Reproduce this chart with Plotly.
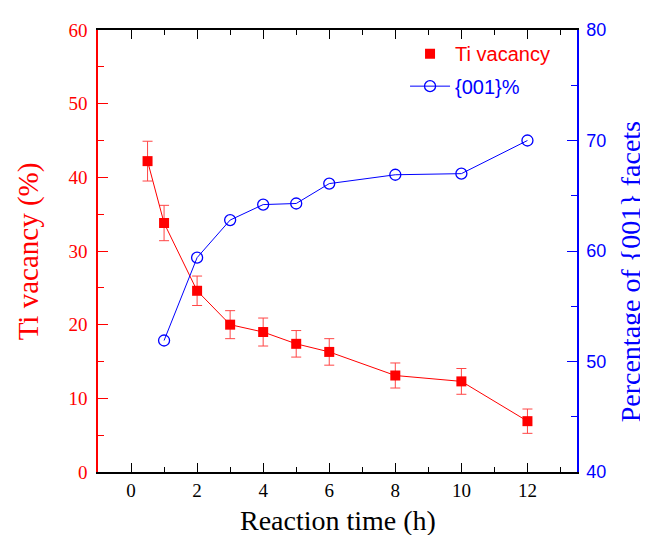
import plotly.graph_objects as go

# Data
time_vac = [0.5, 1, 2, 3, 4, 5, 6, 8, 10, 12]
ti_vacancy = [42.2, 33.8, 24.6, 20.0, 19.0, 17.4, 16.3, 13.1, 12.3, 6.9]
ti_vacancy_err = [2.7, 2.4, 2.0, 1.9, 1.9, 1.8, 1.8, 1.7, 1.75, 1.65]

time_fac = [1, 2, 3, 4, 5, 6, 8, 10, 12]
facet_pct = [51.9, 59.4, 62.8, 64.2, 64.3, 66.1, 66.9, 67.0, 70.0]

x_ticks = [0, 2, 4, 6, 8, 10, 12]

RED = "#ff0000"
BLUE = "#0000ff"
SERIF = "Liberation Serif, Times New Roman, serif"
SANS = "Liberation Sans, Arial, sans-serif"

fig = go.Figure()

fig.add_trace(go.Scatter(
    x=time_vac, y=ti_vacancy, mode="lines+markers",
    name="Ti vacancy",
    line=dict(color=RED, width=1),
    marker=dict(symbol="square", size=10, color=RED),
    error_y=dict(type="data", array=ti_vacancy_err, color="rgb(255,70,70)", thickness=1, width=5),
    legendgroup="a", showlegend=False,
))
# legend entry for Ti vacancy (marker only; invisible line keeps symbol aligned)
fig.add_trace(go.Scatter(
    x=[None], y=[None], mode="lines+markers",
    name="<span style='color:#ff0000'>Ti vacancy</span>",
    line=dict(color="rgba(0,0,0,0)", width=1),
    marker=dict(symbol="square", size=10, color=RED),
    legendgroup="a",
))
fig.add_trace(go.Scatter(
    x=time_fac, y=facet_pct, mode="lines+markers", yaxis="y2",
    name="<span style='color:#0000ff'>{001}%</span>",
    line=dict(color=BLUE, width=1),
    marker=dict(symbol="circle-open", size=11, color=BLUE, line=dict(width=1.3)),
    legendgroup="b",
))

fig.update_layout(
    width=640, height=527,
    margin=dict(l=89.7, r=71, t=14.5, b=62.5),
    paper_bgcolor="white", plot_bgcolor="white",
    xaxis=dict(
        range=[-1, 13.5], tickvals=x_ticks, ticktext=[str(v) for v in x_ticks],
        ticks="inside", ticklen=9, tickwidth=1.3, tickcolor="black",
        showline=True, linecolor="black", linewidth=1.5, mirror="ticks",
        showgrid=False, zeroline=False,
        tickfont=dict(family=SERIF, size=19, color="black"),
        minor=dict(ticks="inside", ticklen=5, dtick=1, tick0=0, tickcolor="black", tickwidth=1.3),
    ),
    yaxis=dict(
        range=[0, 60], dtick=10, tick0=0,
        ticks="inside", ticklen=10, tickwidth=1.3, tickcolor=RED,
        showline=True, linecolor=RED, linewidth=1.5,
        showgrid=False, zeroline=False, ticklabelstandoff=5,
        tickfont=dict(family=SERIF, size=19, color=RED),
        minor=dict(ticks="inside", ticklen=6, dtick=5, tick0=0, tickcolor=RED, tickwidth=1.3),
    ),
    yaxis2=dict(
        range=[40, 80], dtick=10, tick0=40, overlaying="y", side="right",
        ticks="inside", ticklen=10, tickwidth=1.3, tickcolor=BLUE,
        showline=True, linecolor=BLUE, linewidth=1.5,
        showgrid=False, zeroline=False, ticklabelstandoff=4,
        tickfont=dict(family=SANS, size=18, color=BLUE),
        minor=dict(ticks="inside", ticklen=6, dtick=5, tick0=40, tickcolor=BLUE, tickwidth=1.3),
    ),
    legend=dict(
        x=0.641, y=0.9906, xanchor="left", yanchor="top",
        bgcolor="rgba(0,0,0,0)", font=dict(family=SANS, size=20),
        tracegroupgap=3.5, itemwidth=40,
    ),
    annotations=[
        dict(text="Reaction time (h)", x=0.5, y=-0.11, xref="paper", yref="paper",
             xanchor="center", yanchor="middle", showarrow=False,
             font=dict(family=SERIF, size=28, color="black")),
        dict(text="Ti vacancy (%)", x=-0.1454, y=0.5, xref="paper", yref="paper",
             xanchor="center", yanchor="middle", textangle=-90, showarrow=False,
             font=dict(family=SERIF, size=29, color=RED)),
        dict(text="Percentage of {001} facets", x=1.1106, y=0.454, xref="paper", yref="paper",
             xanchor="center", yanchor="middle", textangle=-90, showarrow=False,
             font=dict(family=SERIF, size=28, color=BLUE)),
    ],
)

fig.write_html("out.html")
